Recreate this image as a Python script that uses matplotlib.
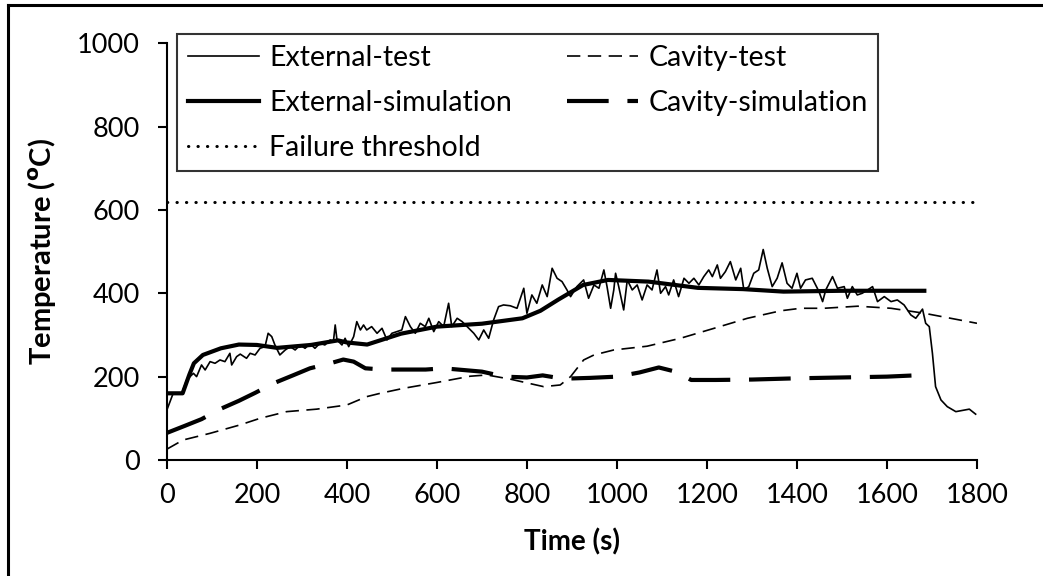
import matplotlib
matplotlib.use("Agg")
import matplotlib.pyplot as plt
from matplotlib.lines import Line2D

plt.rcParams['font.family'] = ['Lato', 'DejaVu Sans']

# external thermocouple, test (noisy)
ext_test_t = [0, 14, 33, 44, 59, 66, 77, 85, 96, 107, 118, 129, 140, 144, 155, 163, 177, 185,
              196, 207, 218, 225, 233, 240, 251, 263, 274, 285, 296, 307, 318, 329, 340, 351,
              363, 370, 374, 378, 389, 396, 404, 415, 422, 430, 437, 444, 455, 467, 478, 489,
              500, 511, 522, 530, 541, 552, 563, 574, 582, 593, 604, 615, 626, 633, 645, 656,
              667, 682, 693, 704, 715, 726, 737, 748, 763, 778, 793, 800, 811, 822, 834, 845,
              856, 867, 878, 889, 897, 911, 926, 937, 949, 960, 971, 978, 986, 993, 997, 1004,
              1015, 1023, 1034, 1045, 1056, 1067, 1078, 1089, 1097, 1108, 1115, 1126, 1137,
              1149, 1160, 1171, 1182, 1193, 1204, 1212, 1223, 1230, 1241, 1252, 1264, 1275,
              1282, 1293, 1304, 1315, 1325, 1334, 1345, 1356, 1367, 1378, 1389, 1400, 1408,
              1419, 1434, 1449, 1457, 1464, 1479, 1490, 1505, 1512, 1523, 1534, 1545, 1557,
              1568, 1579, 1594, 1609, 1623, 1638, 1653, 1664, 1679, 1686, 1694, 1701, 1708,
              1720, 1734, 1753, 1768, 1783, 1797]
ext_test_v = [120, 160, 160, 192, 208, 200, 228, 216, 236, 232, 240, 236, 256, 228, 248, 254, 244, 256,
              252, 268, 272, 304, 296, 276, 252, 264, 272, 264, 276, 268, 279, 268, 280, 276,
              288, 284, 324, 288, 276, 292, 272, 296, 332, 312, 324, 312, 320, 304, 316, 288,
              304, 308, 312, 344, 320, 304, 328, 320, 340, 308, 332, 320, 376, 320, 340, 332,
              320, 304, 288, 312, 292, 336, 368, 372, 370, 364, 412, 352, 396, 376, 420, 392,
              460, 436, 428, 408, 392, 416, 432, 388, 420, 412, 456, 416, 364, 408, 448, 416,
              360, 432, 408, 420, 384, 420, 408, 456, 400, 416, 396, 432, 392,
              436, 424, 436, 420, 440, 456, 440, 468, 436, 452, 476, 432, 460,
              408, 416, 448, 456, 505, 460, 416, 436, 473, 424, 412, 448, 412,
              432, 436, 404, 380, 408, 440, 412, 416, 388, 416, 396, 400, 408,
              416, 380, 392, 380, 384, 372, 348, 340, 362, 328, 320, 256, 176,
              144, 128, 116, 119, 122, 110]

# external, simulation
ext_sim_t = [0, 35, 50, 60, 80, 120, 160, 200, 245, 320, 380, 400, 445, 520, 600, 700, 790,
             830, 870, 925, 980, 1070, 1180, 1280, 1370, 1500, 1600, 1683]
ext_sim_v = [160, 160, 205, 232, 252, 268, 277, 276, 269, 276, 287, 282, 277, 303, 320, 327, 340,
             358, 385, 420, 432, 428, 413, 410, 404, 406, 406, 406]

# cavity, test
cav_test_t = [0, 36, 96, 162, 207, 266, 333, 400, 444, 474, 526, 600, 674, 711, 763, 837, 874,
              897, 926, 949, 993, 1067, 1141, 1216, 1290, 1364, 1408, 1460, 1535, 1609, 1683, 1800]
cav_test_v = [26, 48, 64, 84, 100, 116, 122, 132, 152, 160, 172, 186, 201, 204, 194, 176, 180,
              200, 240, 252, 264, 273, 292, 316, 340, 358, 364, 364, 369, 364, 352, 328]

# cavity, simulation
cav_sim_t = [0, 40, 77, 118, 160, 196, 237, 280, 318, 363, 392, 415, 441, 480, 575, 615, 700,
             750, 800, 835, 880, 940, 1000, 1050, 1093, 1130, 1165, 1220, 1300, 1400, 1500, 1600, 1683]
cav_sim_v = [65, 82, 98, 122, 142, 161, 184, 203, 220, 232, 241, 236, 220, 217, 217, 220, 212,
             200, 198, 203, 195, 197, 200, 210, 222, 212, 192, 192, 193, 196, 198, 200, 204]

threshold_t = [0, 1800]
threshold_v = [620, 620]

fig = plt.figure(figsize=(10.43, 5.76), dpi=100)
ax = fig.add_axes([0.160, 0.2014, 0.7767, 0.7236])

ax.plot(ext_test_t, ext_test_v, color='black', lw=1.2, label='External-test')
ax.plot(ext_sim_t, ext_sim_v, color='black', lw=3.0, label='External-simulation')
ax.plot(threshold_t, threshold_v, color='black', lw=2.2, linestyle=(0, (0.1, 3.0)),
        dash_capstyle='round', label='Failure threshold')
ax.plot(cav_test_t, cav_test_v, color='black', lw=1.2, linestyle=(0, (8, 4.5)), label='Cavity-test')
ax.plot(cav_sim_t, cav_sim_v, color='black', lw=3.0, linestyle=(0, (10, 4.5)), label='Cavity-simulation')

ax.set_xlim(0, 1800)
ax.set_ylim(0, 1000)
ax.set_xticks(range(0, 1801, 200))
ax.set_yticks(range(0, 1001, 200))
for s in ['top', 'right']:
    ax.spines[s].set_visible(False)
for s in ['left', 'bottom']:
    ax.spines[s].set_linewidth(1.5)
ax.tick_params(axis='both', direction='out', length=6.5, width=1.5, labelsize=19.5)
ax.tick_params(axis='x', pad=10)
ax.tick_params(axis='y', pad=13)

ax.set_xlabel('Time (s)', fontsize=20, fontweight='bold')
ax.set_ylabel('Temperature ($^{\\mathbf{o}}$C)', fontsize=21, fontweight='bold')
ax.xaxis.set_label_coords(0.5, -0.165)
ax.yaxis.set_label_coords(-0.135, 0.5)

handles, labels = ax.get_legend_handles_labels()
leg = fig.legend(handles, labels, ncol=2, loc='upper left',
                 bbox_to_anchor=(0.170, 0.941, 0.672, 0.0), mode='expand', borderaxespad=0,
                 fontsize=20.5, frameon=True, fancybox=False, handlelength=2.5,
                 handletextpad=0.35, labelspacing=0.67, borderpad=0.37, columnspacing=1.5)
leg.get_frame().set_edgecolor('black')
leg.get_frame().set_linewidth(1.5)

# outer frame (left and top edges only)
fig.add_artist(Line2D([0.0077, 0.0077], [0.0, 0.991], color='black', lw=2.2))
fig.add_artist(Line2D([0.0077, 1.0], [0.991, 0.991], color='black', lw=2.2))

fig.savefig('out.png', dpi=100)
